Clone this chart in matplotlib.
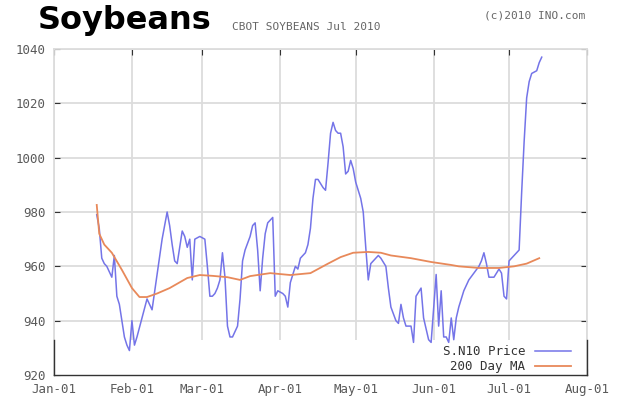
import numpy as np
import pandas as pd
import matplotlib
matplotlib.use("Agg")
from matplotlib import pyplot as plt
from matplotlib.patches import Rectangle

# day of year offsets (0 = Jan 1 2010) and values
price_days = [17, 18, 19, 20, 21, 22, 23, 24, 25, 26, 27, 28, 29, 30, 31, 32, 33, 35, 37, 39,
              41, 43, 45, 46, 47, 48, 49, 51, 52, 53, 54, 55, 56, 58, 60, 61, 62, 63, 64, 65,
              66, 67, 68, 69, 70, 71, 72, 73, 74, 75, 76, 78, 79, 80, 81, 82, 83, 84, 85, 87,
              88, 89, 91, 92, 93, 94, 96, 97, 98, 100, 101, 102, 103, 104, 105, 107, 108, 109, 110, 111,
              112, 113, 114, 115, 116, 117, 118, 119, 120, 122, 123, 124, 125, 126, 127, 129, 130, 132, 133, 134,
              136, 137, 138, 139, 140, 142, 143, 144, 146, 147, 148, 149, 150, 152, 153, 154, 155, 156, 157, 158,
              159, 160, 161, 162, 163, 165, 167, 169, 170, 171, 172, 173, 175, 177, 178, 179, 180, 181, 182, 184,
              185, 186, 187, 188, 189, 190, 192, 193, 194]
price = [979, 974, 963, 961, 960, 958, 956, 964, 949, 946, 940, 934, 931, 929, 940, 931, 934, 941, 948, 944,
         957, 970, 980, 975, 968, 962, 961, 973, 971, 967, 970, 955, 970, 971, 970, 960, 949, 949, 950, 952,
         955, 965, 956, 938, 934, 934, 936, 938, 948, 962, 966, 971, 975, 976, 966, 951, 963, 972, 976, 978,
         949, 951, 950, 949, 945, 954, 960, 959, 963, 965, 968, 974, 985, 992, 992, 989, 988, 998, 1009, 1013,
         1010, 1009, 1009, 1004, 994, 995, 999, 996, 991, 985, 980, 967, 955, 961, 962, 964, 963, 960, 952, 945,
         940, 939, 946, 941, 938, 938, 932, 949, 952, 941, 937, 933, 932, 957, 938, 951, 934, 934, 932, 941,
         933, 941, 945, 948, 951, 955, 957.5, 960, 962, 965, 961, 956, 956, 959, 957.5, 949, 948, 962, 963, 965,
         966, 987, 1006, 1022, 1028, 1031, 1032, 1035, 1037]

ma_days = [17, 18, 20, 23, 27, 31, 34, 37, 41, 46, 53, 58, 63, 69, 74, 78, 86, 94, 102, 109,
           114, 119, 125, 130, 134, 142, 150, 158, 161, 169, 177, 183, 188, 193]
ma = [982.6, 972, 968, 965, 958.7, 952, 948.7, 948.7, 950, 952, 955.7, 956.8, 956.5, 956, 955, 956.4,
      957.5, 956.8, 957.5, 961, 963.4, 965, 965.3, 965, 964, 963, 961.6, 960.5, 960, 959.4, 959.4, 960,
      961, 963]

x_ticks = ["2010-01-01", "2010-02-01", "2010-03-01", "2010-04-01", "2010-05-01",
           "2010-06-01", "2010-07-01", "2010-08-01"]
x_labels = ["Jan-01", "Feb-01", "Mar-01", "Apr-01", "May-01", "Jun-01", "Jul-01", "Aug-01"]
y_ticks = [920, 940, 960, 980, 1000, 1020, 1040]

start = pd.Timestamp("2010-01-01")
price_dates = start + pd.to_timedelta(price_days, unit="D")
ma_dates = start + pd.to_timedelta(ma_days, unit="D")
tick_dates = pd.to_datetime(x_ticks)

mono = "DejaVu Sans Mono"
grid_c = "#dcdcdc"
label_c = "#5a5a5a"

fig = plt.figure(figsize=(6.2, 4.0), dpi=100)
ax = fig.add_axes([54 / 620, 25 / 400, 533 / 620, 326 / 400])

ax.set_xlim(tick_dates[0], tick_dates[-1])
ax.set_ylim(920, 1040)
ax.set_xticks(tick_dates)
ax.set_xticklabels(x_labels)
ax.set_yticks(y_ticks)
ax.grid(True, color=grid_c, linewidth=1.3, zorder=0)
ax.set_axisbelow(True)

# white strip at the bottom where the legend sits (covers grid)
ax.add_patch(Rectangle((0, 0), 1, 12.8 / 120, transform=ax.transAxes,
                       facecolor="white", edgecolor="none", zorder=1))
ax.plot([0, 0], [0, 12.8 / 120], color="#333333", lw=1, transform=ax.transAxes, zorder=3, clip_on=False)
ax.plot([1, 1], [0, 12.8 / 120], color="#333333", lw=1, transform=ax.transAxes, zorder=3, clip_on=False)

ax.plot(price_dates, price, color="#7474e8", lw=1.1, label="S.N10 Price", zorder=4)
ax.plot(ma_dates, ma, color="#e8895a", lw=1.3, label="200 Day MA", zorder=5)

for side in ["top", "left", "right"]:
    ax.spines[side].set_color(grid_c)
    ax.spines[side].set_linewidth(1.3)
ax.spines["bottom"].set_color("#333333")
ax.spines["bottom"].set_linewidth(1)

ax.tick_params(direction="in", length=4, color="#333333", top=True, right=True,
               labelsize=9, labelcolor=label_c, pad=6)
for lab in ax.get_xticklabels() + ax.get_yticklabels():
    lab.set_family(mono)

leg = ax.legend(loc="lower right", bbox_to_anchor=(0.98, -0.01), frameon=False,
                markerfirst=False, prop={"family": mono, "size": 9},
                handlelength=2.9, handletextpad=0.8, labelspacing=0.15, borderaxespad=0)
for t in leg.get_texts():
    t.set_color("#333333")

fig.text(38 / 620, 1 - 20 / 400, "Soybeans", fontsize=23, fontweight="bold",
         family="DejaVu Sans", va="center", ha="left", color="black")
fig.text(232 / 620, 1 - 27 / 400, "CBOT SOYBEANS Jul 2010", fontsize=8, family=mono,
         va="center", ha="left", color="#666666")
fig.text(585 / 620, 1 - 15 / 400, "(c)2010 INO.com", fontsize=8, family=mono,
         va="center", ha="right", color="#666666")

fig.savefig("out.png", dpi=100)
